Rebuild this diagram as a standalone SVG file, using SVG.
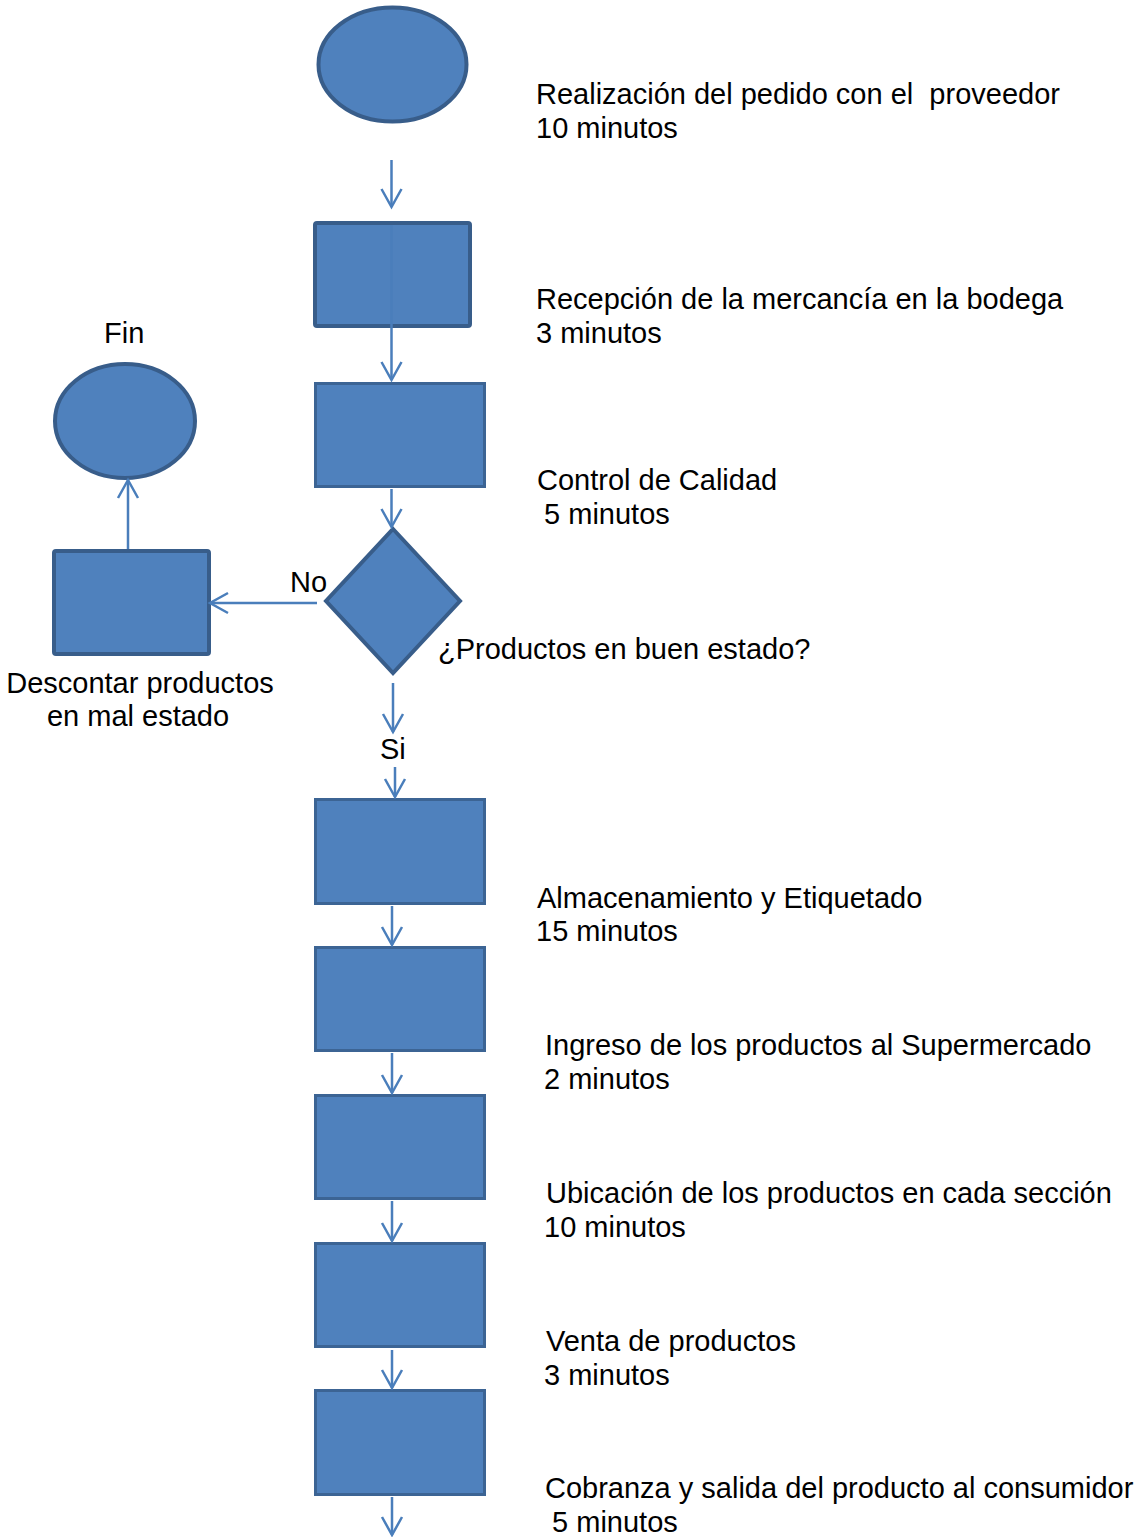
<svg xmlns="http://www.w3.org/2000/svg" width="1140" height="1537" viewBox="0 0 1140 1537">
<style>
.shape{fill:#4f81bd;stroke:#385d8a;stroke-width:4}
.soft{fill:#4f81bd;stroke:#3c6494;stroke-width:3}
.conn{fill:none;stroke:#4a7ebb;stroke-width:2.5}
text{font-family:"Liberation Sans",Arial,sans-serif;font-size:29px;fill:#000;white-space:pre}
</style>
<defs>
<marker id="arr" markerUnits="userSpaceOnUse" markerWidth="30" markerHeight="30" refX="21" refY="12" orient="auto">
<path d="M3,2 L21,12 L3,22" fill="none" stroke="#4a7ebb" stroke-width="2.5"/>
</marker>
</defs>
<rect width="1140" height="1537" fill="#fff"/>
<g id="start"><ellipse class="shape" cx="392.5" cy="64.5" rx="74" ry="57"/></g>
<g id="n1"><rect class="shape" x="315" y="223" width="155" height="103" rx="2"/></g>
<g id="n2"><rect class="soft" x="315.5" y="383.5" width="169" height="103"/></g>
<g id="decision"><polygon class="shape" points="393,529 460,601 393,673 326,601"/></g>
<g id="descontar"><rect class="shape" x="54" y="551" width="155" height="103" rx="2"/></g>
<g id="fin"><ellipse class="shape" cx="125" cy="421" rx="70" ry="57"/></g>
<g id="n3"><rect class="soft" x="315.5" y="799.5" width="169" height="104"/></g>
<g id="n4"><rect class="soft" x="315.5" y="947.5" width="169" height="103"/></g>
<g id="n5"><rect class="soft" x="315.5" y="1095.5" width="169" height="103"/></g>
<g id="n6"><rect class="soft" x="315.5" y="1243.5" width="169" height="103"/></g>
<g id="n7"><rect class="soft" x="315.5" y="1390.5" width="169" height="104"/></g>
<g id="connectors">
<line class="conn" x1="391.5" y1="160" x2="391.5" y2="207" marker-end="url(#arr)"/>
<line class="conn" x1="391.5" y1="225" x2="391.5" y2="380" marker-end="url(#arr)"/>
<line class="conn" x1="391.5" y1="489" x2="391.5" y2="527" marker-end="url(#arr)"/>
<line class="conn" x1="317" y1="603" x2="210" y2="603" marker-end="url(#arr)"/>
<line class="conn" x1="128" y1="549" x2="128" y2="480" marker-end="url(#arr)"/>
<line class="conn" x1="393" y1="683" x2="393" y2="732" marker-end="url(#arr)"/>
<line class="conn" x1="395" y1="767" x2="395" y2="797" marker-end="url(#arr)"/>
<line class="conn" x1="392" y1="906" x2="392" y2="945" marker-end="url(#arr)"/>
<line class="conn" x1="392" y1="1053" x2="392" y2="1093" marker-end="url(#arr)"/>
<line class="conn" x1="392" y1="1201" x2="392" y2="1241" marker-end="url(#arr)"/>
<line class="conn" x1="392" y1="1350" x2="392" y2="1388" marker-end="url(#arr)"/>
<line class="conn" x1="392" y1="1497" x2="392" y2="1535" marker-end="url(#arr)"/>
</g>
<g id="labels">
<text x="536" y="103.5">Realización del pedido con el  proveedor</text>
<text x="536" y="137.5">10 minutos</text>
<text x="536" y="308.5">Recepción de la mercancía en la bodega</text>
<text x="536" y="342.5">3 minutos</text>
<text x="104" y="342.5">Fin</text>
<text x="537" y="489.5">Control de Calidad</text>
<text x="536" y="523.5"> 5 minutos</text>
<text x="290" y="591.5">No</text>
<text x="438" y="658.5">¿Productos en buen estado?</text>
<text x="140" y="692.5" text-anchor="middle">Descontar productos</text>
<text x="138" y="725.5" text-anchor="middle">en mal estado</text>
<text x="380" y="758.5">Si</text>
<text x="537" y="907.5">Almacenamiento y Etiquetado</text>
<text x="536" y="940.5">15 minutos</text>
<text x="545" y="1054.5">Ingreso de los productos al Supermercado</text>
<text x="544" y="1088.5">2 minutos</text>
<text x="546" y="1202.5">Ubicación de los productos en cada sección</text>
<text x="544" y="1236.5">10 minutos</text>
<text x="546" y="1350.5">Venta de productos</text>
<text x="544" y="1384.5">3 minutos</text>
<text x="545" y="1497.5">Cobranza y salida del producto al consumidor</text>
<text x="544" y="1531.5"> 5 minutos</text>
</g>
</svg>
